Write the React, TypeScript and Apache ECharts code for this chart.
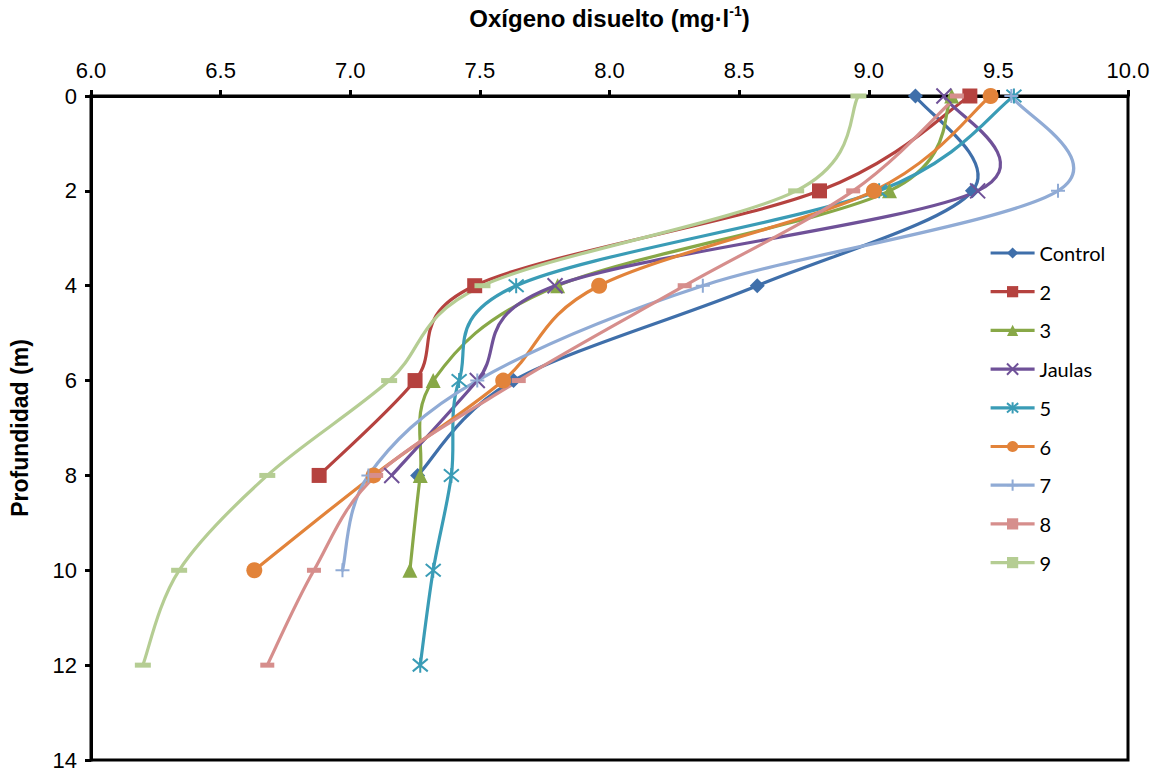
import React, { useEffect, useRef } from "react";
import * as echarts from "echarts";

const depths = [0, 2, 4, 6, 8, 10, 12];
const seriesNames = ["Control", "2", "3", "Jaulas", "5", "6", "7", "8", "9"];
const controlVals = [9.18, 9.40, 8.57, 7.63, 7.26];
const s2Vals = [9.39, 8.81, 7.48, 7.25, 6.88];
const s3Vals = [9.32, 9.08, 7.80, 7.32, 7.27, 7.23];
const jaulasVals = [9.29, 9.42, 7.79, 7.49, 7.16];
const s5Vals = [9.56, 9.04, 7.64, 7.42, 7.39, 7.32, 7.27];
const s6Vals = [9.47, 9.02, 7.96, 7.59, 7.09, 6.63];
const s7Vals = [9.55, 9.73, 8.36, 7.49, 7.07, 6.97];
const s8Vals = [9.34, 8.94, 8.29, 7.65, 7.10, 6.86, 6.68];
const s9Vals = [8.96, 8.72, 7.51, 7.15, 6.68, 6.34, 6.20];
const xTicks = [6.0, 6.5, 7.0, 7.5, 8.0, 8.5, 9.0, 9.5, 10.0];
const yTicks = [0, 2, 4, 6, 8, 10, 12, 14];

const allVals = [controlVals, s2Vals, s3Vals, jaulasVals, s5Vals, s6Vals, s7Vals, s8Vals, s9Vals];
const colors = ["#3F6FAA", "#B5423F", "#88A847", "#6F5198", "#3A9CB6", "#E2833A", "#90ABD5", "#D68E8C", "#B5CD93"];
const symbols = [
  "diamond",
  "rect",
  "triangle",
  "path://M0,0L10,10M10,0L0,10",
  "path://M0,0L10,10M10,0L0,10M5,-1L5,11",
  "circle",
  "path://M5,0L5,10M0,5L10,5",
  "rect",
  "rect",
];
const symbolSizes: any[] = [15, 15, 15, 15, 15, 16, 14, [14, 5], [16, 5]];
const borderWidths = [0, 0, 0, 2, 2, 0, 2, 0, 0];
const LINE_W = 3.2;

export default function App() {
  const ref = useRef<HTMLDivElement>(null);
  useEffect(() => {
    document.body.style.margin = "0";
    const chart = echarts.init(ref.current!, null, { renderer: "svg" });
    const curveSeries = seriesNames.map((name, i) => {
      const pts = allVals[i].map((v, j) => [v, depths[j]]);
      return {
        name,
        type: "custom",
        coordinateSystem: "cartesian2d",
        data: pts,
        encode: { x: 0, y: 1 },
        silent: true,
        z: 2,
        renderItem: (params: any, api: any) => {
          const k = params.dataIndex;
          if (k >= pts.length - 1) return { type: "group", children: [] };
          const c = (p: number[]) => api.coord(p);
          const p0 = c(pts[Math.max(k - 1, 0)]);
          const p1 = c(pts[k]);
          const p2 = c(pts[k + 1]);
          const p3 = c(pts[Math.min(k + 2, pts.length - 1)]);
          const cp1x = p1[0] + (p2[0] - p0[0]) / 6;
          const cp1y = p1[1] + (p2[1] - p0[1]) / 6;
          const cp2x = p2[0] - (p3[0] - p1[0]) / 6;
          const cp2y = p2[1] - (p3[1] - p1[1]) / 6;
          return {
            type: "bezierCurve",
            shape: { x1: p1[0], y1: p1[1], x2: p2[0], y2: p2[1], cpx1: cp1x, cpy1: cp1y, cpx2: cp2x, cpy2: cp2y },
            style: { stroke: colors[i], lineWidth: LINE_W, fill: null, lineCap: "round" },
          };
        },
      };
    });
    const markerSeries = seriesNames.map((name, i) => ({
      name,
      type: "line",
      data: allVals[i].map((v, j) => [v, depths[j]]),
      symbol: symbols[i],
      symbolSize: symbolSizes[i],
      color: colors[i],
      z: 3,
      itemStyle: { color: colors[i], borderColor: colors[i], borderWidth: borderWidths[i] },
      lineStyle: { color: colors[i], width: LINE_W, opacity: 0 },
    }));
    chart.setOption({
      animation: false,
      backgroundColor: "#fff",
      grid: {
        left: 91,
        top: 96,
        right: 33,
        bottom: 10,
        containLabel: false,
        outerBoundsMode: "none",
        show: true,
        borderColor: "#000",
        borderWidth: 3,
        backgroundColor: "transparent",
      },
      legend: {
        orient: "vertical",
        left: 984,
        top: 238,
        itemWidth: 44,
        itemHeight: 14,
        itemGap: 18.7,
        data: seriesNames,
        lineStyle: { opacity: 1, width: LINE_W },
        textStyle: { fontFamily: "Lato", fontSize: 20, color: "#000" },
      },
      xAxis: {
        type: "value",
        position: "top",
        min: 6,
        max: 10,
        interval: 0.5,
        name: "Oxígeno disuelto (mg·l{sup|-1})",
        nameLocation: "middle",
        nameGap: 64,
        nameTextStyle: {
          fontFamily: "Liberation Sans, Arial",
          fontSize: 24,
          fontWeight: "bold",
          color: "#000",
          lineHeight: 28,
          rich: {
            sup: {
              fontFamily: "Liberation Sans, Arial",
              fontSize: 14,
              fontWeight: "bold",
              color: "#000",
              verticalAlign: "top",
              lineHeight: 28,
              padding: [0, 0, 11, 0],
            },
          },
        },
        axisLine: { show: true, lineStyle: { color: "#000", width: 3 } },
        axisTick: { show: true, inside: false, length: 6, lineStyle: { color: "#000", width: 3 } },
        axisLabel: {
          margin: 15,
          fontFamily: "Liberation Sans, Arial",
          fontSize: 22,
          color: "#000",
          formatter: (v: number) => (xTicks.includes(v) ? v.toFixed(1) : ""),
        },
        splitLine: { show: false },
      },
      yAxis: {
        type: "value",
        inverse: true,
        min: 0,
        max: 14,
        interval: 2,
        name: "Profundidad (m)",
        nameLocation: "middle",
        nameGap: 60,
        nameTextStyle: {
          fontFamily: "Liberation Sans, Arial",
          fontSize: 23,
          fontWeight: "bold",
          color: "#000",
        },
        axisLine: { show: true, lineStyle: { color: "#000", width: 3 } },
        axisTick: { show: true, inside: false, length: 6, lineStyle: { color: "#000", width: 3 } },
        axisLabel: {
          margin: 14,
          fontFamily: "Liberation Sans, Arial",
          fontSize: 22,
          color: "#000",
          formatter: (v: number) => (yTicks.includes(v) ? String(v) : ""),
        },
        splitLine: { show: false },
      },
      series: [...markerSeries, ...curveSeries],
    });
    return () => chart.dispose();
  }, []);
  return <div ref={ref} style={{ width: 1161, height: 770 }} />;
}
